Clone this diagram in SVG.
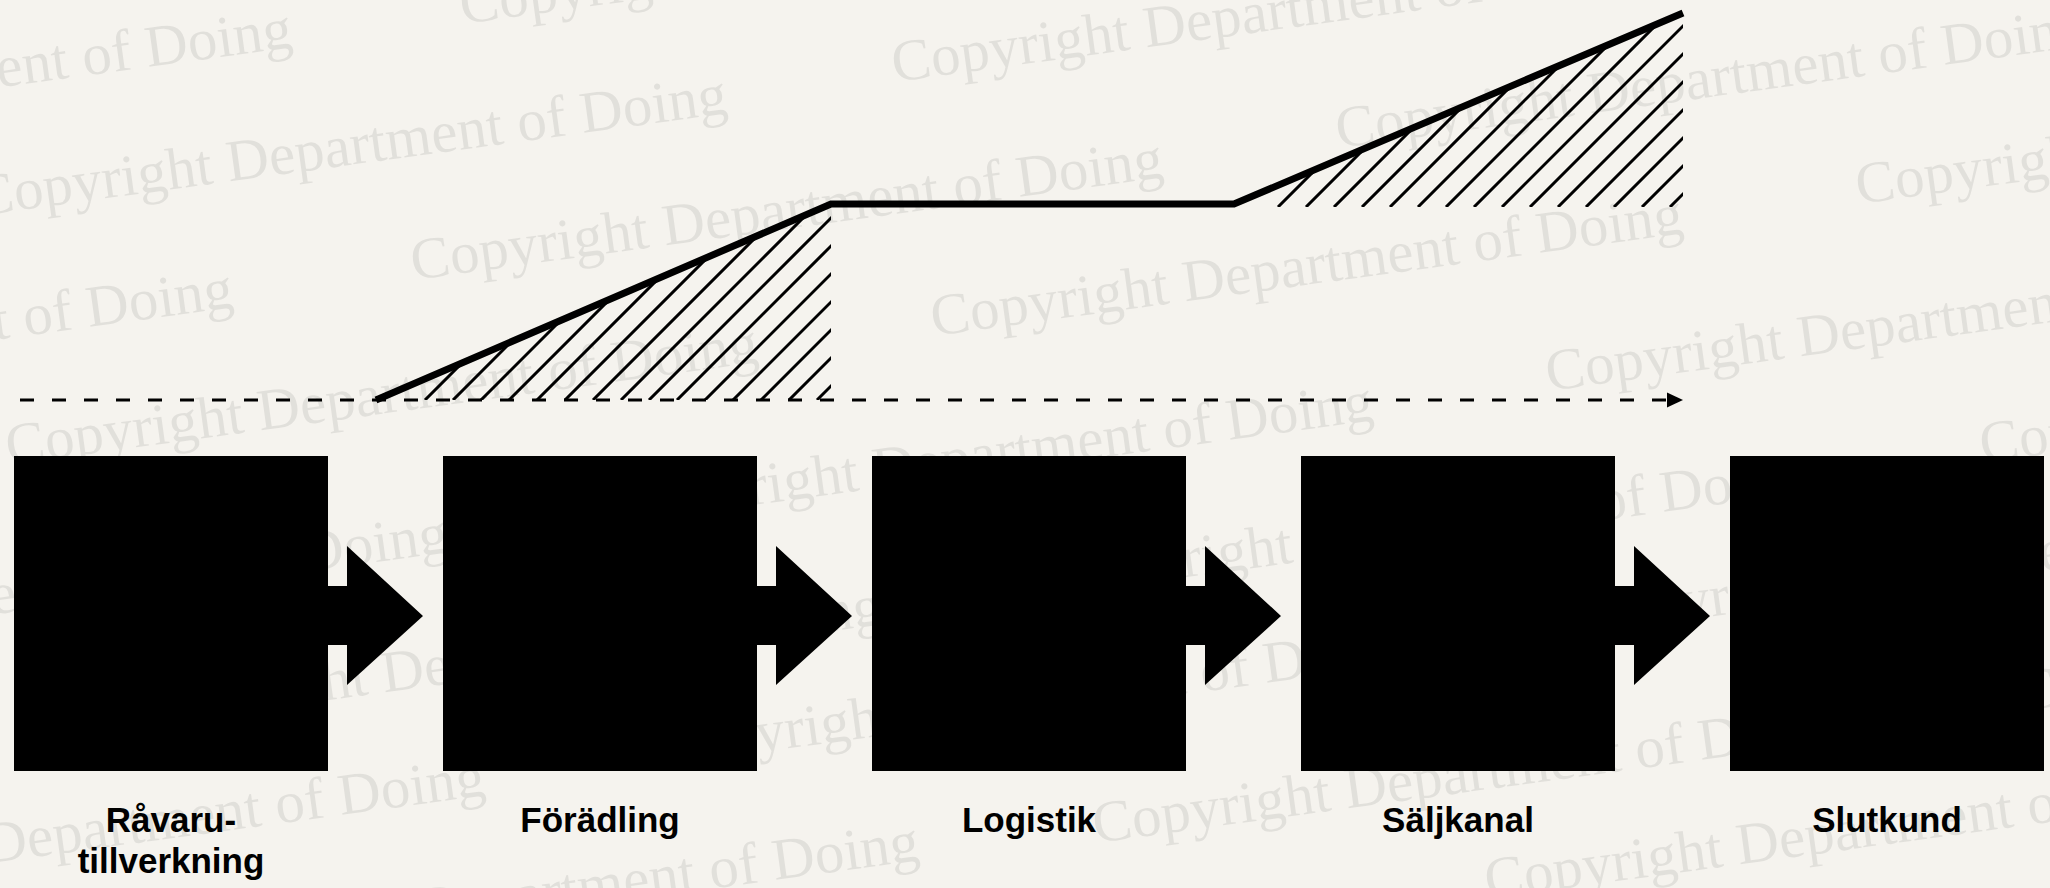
<svg xmlns="http://www.w3.org/2000/svg" xmlns:xlink="http://www.w3.org/1999/xlink" width="2050" height="888" viewBox="0 0 2050 888">
<defs>
<style>
.wm{font-family:"Liberation Serif","Times New Roman",serif;font-size:59px;fill:#000;fill-opacity:0.08;text-anchor:end}
.box{fill:#000}
.lbl{font-family:"Liberation Sans",Arial,Helvetica,sans-serif;font-weight:bold;font-size:35px;fill:#000;text-anchor:middle}
.hatch{fill:none;stroke:#000;stroke-width:3}
.profile{fill:none;stroke:#000;stroke-width:7;stroke-linejoin:miter;stroke-linecap:butt}
.dash{fill:none;stroke:#000;stroke-width:3;stroke-dasharray:14 18}
.barrow{fill:#000}
</style>
<marker id="ah" markerUnits="userSpaceOnUse" markerWidth="16" markerHeight="16" refX="16" refY="8" orient="auto" viewBox="0 0 16 16"><path d="M0,0.5 L16,8 L0,15.5 Z" fill="#000"/></marker>
<clipPath id="c1"><polygon points="376,400 831,204 831,400"/></clipPath>
<clipPath id="c2"><polygon points="1234,207 1683,13 1683,207"/></clipPath>
<path id="ar" class="barrow" d="M326,586 H347 V546 L423,616 L347,685 V645 H326 Z"/>
</defs>
<rect width="2050" height="888" fill="#f5f3ee"/>
<g id="watermark">
<text class="wm" x="294" y="47" transform="rotate(-7.8 294 47)">Copyright Department of Doing</text>
<text class="wm" x="1214" y="-79" transform="rotate(-7.8 1214 -79)">Copyright Department of Doing</text>
<text class="wm" x="729" y="113" transform="rotate(-7.8 729 113)">Copyright Department of Doing</text>
<text class="wm" x="1646" y="-21" transform="rotate(-7.8 1646 -21)">Copyright Department of Doing</text>
<text class="wm" x="235" y="307" transform="rotate(-7.8 235 307)">Copyright Department of Doing</text>
<text class="wm" x="1165" y="177" transform="rotate(-7.8 1165 177)">Copyright Department of Doing</text>
<text class="wm" x="2090" y="45" transform="rotate(-7.8 2090 45)">Copyright Department of Doing</text>
<text class="wm" x="760" y="362" transform="rotate(-7.8 760 362)">Copyright Department of Doing</text>
<text class="wm" x="1685" y="233" transform="rotate(-7.8 1685 233)">Copyright Department of Doing</text>
<text class="wm" x="2610" y="101" transform="rotate(-7.8 2610 101)">Copyright Department of Doing</text>
<text class="wm" x="450" y="552" transform="rotate(-7.8 450 552)">Copyright Department of Doing</text>
<text class="wm" x="1375" y="420" transform="rotate(-7.8 1375 420)">Copyright Department of Doing</text>
<text class="wm" x="2300" y="288" transform="rotate(-7.8 2300 288)">Copyright Department of Doing</text>
<text class="wm" x="884" y="624" transform="rotate(-7.8 884 624)">Copyright Department of Doing</text>
<text class="wm" x="1809" y="492" transform="rotate(-7.8 1809 492)">Copyright Department of Doing</text>
<text class="wm" x="2734" y="360" transform="rotate(-7.8 2734 360)">Copyright Department of Doing</text>
<text class="wm" x="487" y="795" transform="rotate(-7.8 487 795)">Copyright Department of Doing</text>
<text class="wm" x="1412" y="663" transform="rotate(-7.8 1412 663)">Copyright Department of Doing</text>
<text class="wm" x="2337" y="531" transform="rotate(-7.8 2337 531)">Copyright Department of Doing</text>
<text class="wm" x="921" y="860" transform="rotate(-7.8 921 860)">Copyright Department of Doing</text>
<text class="wm" x="1847" y="740" transform="rotate(-7.8 1847 740)">Copyright Department of Doing</text>
<text class="wm" x="2772" y="608" transform="rotate(-7.8 2772 608)">Copyright Department of Doing</text>
<text class="wm" x="2239" y="796" transform="rotate(-7.8 2239 796)">Copyright Department of Doing</text>
</g>
<g id="chart">
<path class="dash" d="M20,400 H1683" marker-end="url(#ah)"/>
<path class="hatch" clip-path="url(#c1)" d="M425,400 l220,-220 M453,400 l220,-220 M481,400 l220,-220 M509,400 l220,-220 M537,400 l220,-220 M565,400 l220,-220 M593,400 l220,-220 M621,400 l220,-220 M649,400 l220,-220 M677,400 l220,-220 M705,400 l220,-220 M733,400 l220,-220 M761,400 l220,-220 M789,400 l220,-220 M817,400 l220,-220"/>
<path class="hatch" clip-path="url(#c2)" d="M1278,207 l220,-220 M1306,207 l220,-220 M1334,207 l220,-220 M1362,207 l220,-220 M1390,207 l220,-220 M1418,207 l220,-220 M1446,207 l220,-220 M1474,207 l220,-220 M1502,207 l220,-220 M1530,207 l220,-220 M1558,207 l220,-220 M1586,207 l220,-220 M1614,207 l220,-220 M1642,207 l220,-220 M1670,207 l220,-220"/>
<path class="profile" d="M376,400 L831,204 L1234,204 L1683,13"/>
</g>
<g id="connectors">
<use xlink:href="#ar" href="#ar"/>
<use xlink:href="#ar" href="#ar" x="429"/>
<use xlink:href="#ar" href="#ar" x="858"/>
<use xlink:href="#ar" href="#ar" x="1287"/>
</g>
<g id="node-ravaru">
<rect class="box" x="14" y="456" width="314" height="315"/>
<text class="lbl" x="171" y="832">Råvaru-</text>
<text class="lbl" x="171" y="873">tillverkning</text>
</g>
<g id="node-foradling">
<rect class="box" x="443" y="456" width="314" height="315"/>
<text class="lbl" x="600" y="832">Förädling</text>
</g>
<g id="node-logistik">
<rect class="box" x="872" y="456" width="314" height="315"/>
<text class="lbl" x="1029" y="832">Logistik</text>
</g>
<g id="node-saljkanal">
<rect class="box" x="1301" y="456" width="314" height="315"/>
<text class="lbl" x="1458" y="832">Säljkanal</text>
</g>
<g id="node-slutkund">
<rect class="box" x="1730" y="456" width="314" height="315"/>
<text class="lbl" x="1887" y="832">Slutkund</text>
</g>
</svg>
